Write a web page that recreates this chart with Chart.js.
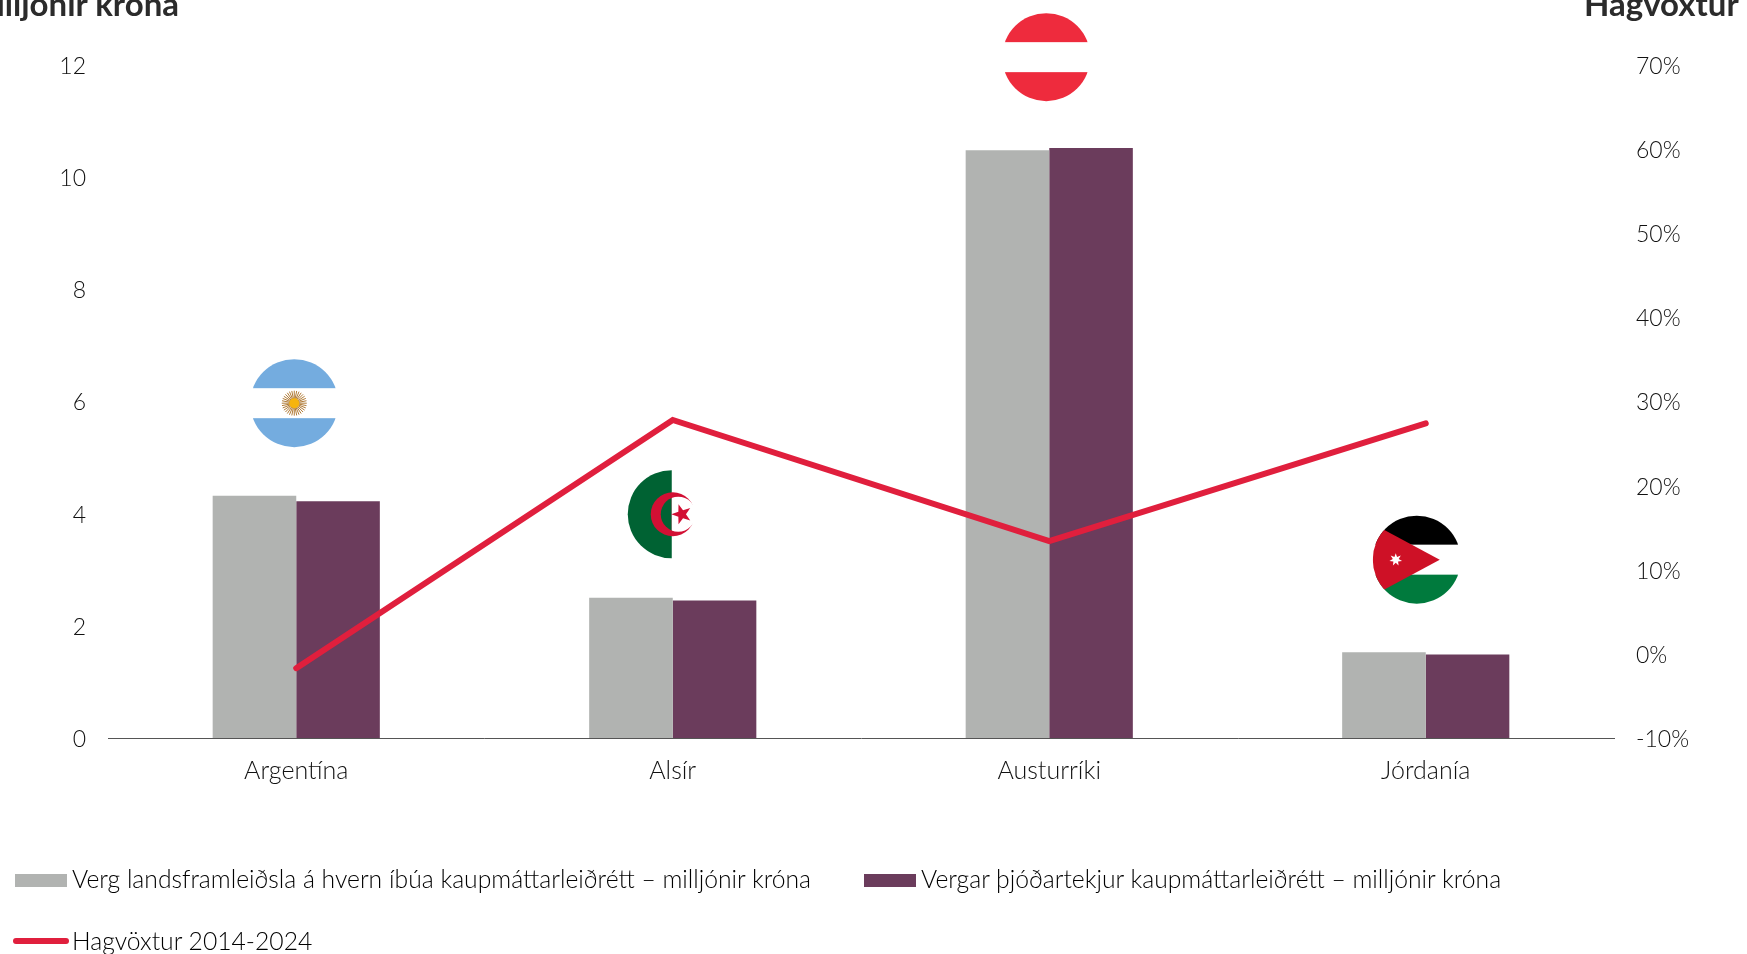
<!DOCTYPE html>
<html lang="is"><head><meta charset="utf-8">
<script src="https://cdn.jsdelivr.net/npm/chart.js@4"></script>
<style>
html,body{margin:0;padding:0;background:#fff;overflow:hidden;width:1747px;height:954px}
#wrap{position:relative;width:1747px;height:954px;overflow:hidden;font-family:Lato,sans-serif;color:#111}
canvas{position:absolute;left:0;top:0}
.t{position:absolute;white-space:nowrap;font-weight:700;font-size:33px;color:#2b2b2b;line-height:30px}
.l{position:absolute;white-space:nowrap;font-weight:300;font-size:24.7px;line-height:28px;color:#000}
.s{position:absolute}
</style></head><body>
<div id="wrap"><canvas id="c" width="1747" height="954"></canvas>
<div class="t" id="tl" style="right:1568px;top:-12px">Milljónir króna</div>
<div class="t" id="tr" style="left:1584px;top:-12px">Hagvöxtur</div>
</div>
<script>
const categories=["Argentína","Alsír","Austurríki","Jórdanía"];
const gdpPerCapita=[4.32,2.5,10.48,1.53];
const nationalIncome=[4.22,2.45,10.52,1.49];
const growth=[-1.7,27.8,13.4,27.4];
const seriesNames=["Verg landsframleiðsla á hvern íbúa kaupmáttarleiðrétt – milljónir króna","Vergar þjóðartekjur kaupmáttarleiðrétt – milljónir króna","Hagvöxtur 2014-2024"];
const colours=["#b1b3b1","#6b3c5c","#e01f3d"];
const flagHeights=[5.97,3.99,12.14,3.18];
const font={family:"Lato",size:23,weight:"300"};
const catFont={family:"Lato",size:25,weight:"300"};

function star(ctx,x,y,R,r,n,rot){ctx.beginPath();for(let i=0;i<2*n;i++){const a=rot+i*Math.PI/n,q=i%2?r:R;ctx.lineTo(x+q*Math.cos(a),y+q*Math.sin(a));}ctx.closePath();ctx.fill();}
function disc(ctx,x,y,fn){ctx.save();ctx.beginPath();ctx.ellipse(x,y,44,44,0,0,2*Math.PI);ctx.clip();fn();ctx.restore();}
const painters=[
 (ctx,x,y)=>{disc(ctx,x,y,()=>{ctx.fillStyle="#74acdf";ctx.fillRect(x-45,y-45,90,30);ctx.fillRect(x-45,y+15,90,30);});
  ctx.strokeStyle="#b07a35";ctx.lineWidth=1;for(let i=0;i<32;i++){const a=i*Math.PI/16;ctx.beginPath();ctx.moveTo(x+4*Math.cos(a),y+4*Math.sin(a));ctx.lineTo(x+12.5*Math.cos(a),y+12.5*Math.sin(a));ctx.stroke();}
  ctx.fillStyle="#f6b40e";ctx.beginPath();ctx.arc(x,y,5,0,7);ctx.fill();},
 (ctx,x,y)=>{disc(ctx,x,y,()=>{ctx.fillStyle="#006233";ctx.fillRect(x-45,y-45,45,90);});
  ctx.save();ctx.beginPath();ctx.rect(x-30,y-30,51,60);ctx.clip();ctx.fillStyle="#d21034";ctx.beginPath();ctx.arc(x+1,y,22,0,7);ctx.fill();ctx.restore();
  ctx.save();ctx.beginPath();ctx.arc(x+6.5,y,17.5,0,7);ctx.clip();ctx.fillStyle="#006233";ctx.fillRect(x-30,y-30,30,60);ctx.fillStyle="#fff";ctx.fillRect(x,y-30,30,60);ctx.restore();
  ctx.fillStyle="#d21034";star(ctx,x+10,y,10.5,4.2,5,Math.PI);},
 (ctx,x,y)=>{disc(ctx,x,y,()=>{ctx.fillStyle="#ee2b3d";ctx.fillRect(x-45,y-45,90,30);ctx.fillRect(x-45,y+15,90,30);});},
 (ctx,x,y)=>{disc(ctx,x,y,()=>{ctx.fillStyle="#000";ctx.fillRect(x-45,y-45,90,30);ctx.fillStyle="#007a3d";ctx.fillRect(x-45,y+15,90,30);
   ctx.fillStyle="#ce1126";ctx.beginPath();ctx.moveTo(x+23,y);ctx.lineTo(x-44,y-36);ctx.lineTo(x-44,y+36);ctx.closePath();ctx.fill();});
  ctx.fillStyle="#fff";star(ctx,x-21,y,6.5,3,7,-Math.PI/2);}
];
const flagOffsets=[-2,-1,-3,-9];
const flagsPlugin={id:"flags",afterDraw(chart){const {ctx,scales}=chart;
  categories.forEach((c,i)=>{painters[i](ctx,scales.x.getPixelForValue(i)+flagOffsets[i],scales.y.getPixelForValue(flagHeights[i]));});}};

new Chart(document.getElementById("c"),{
 data:{labels:categories,datasets:[
  {type:"line",label:seriesNames[2],data:growth,yAxisID:"y2",borderColor:colours[2],borderWidth:6,pointRadius:0,tension:0,order:0,borderCapStyle:"round",borderJoinStyle:"miter"},
  {type:"bar",label:seriesNames[0],data:gdpPerCapita,yAxisID:"y",backgroundColor:colours[0],barPercentage:1,categoryPercentage:.444,order:1},
  {type:"bar",label:seriesNames[1],data:nationalIncome,yAxisID:"y",backgroundColor:colours[1],barPercentage:1,categoryPercentage:.444,order:1}
 ]},
 plugins:[flagsPlugin],
 options:{responsive:false,animation:false,layout:{padding:{top:65,left:0,right:0,bottom:0}},
  plugins:{legend:{display:false},tooltip:{enabled:false}},
  scales:{
   x:{grid:{display:false,drawTicks:false},border:{display:true,color:"#555",width:1},ticks:{font:catFont,color:"#111",padding:18,maxRotation:0},afterFit(s){s.height=216;}},
   y:{position:"left",min:0,max:12,grid:{display:false},border:{display:false},ticks:{stepSize:2,font,color:"#111",padding:14,labelOffset:1.5},afterFit(s){s.width=108;}},
   y2:{position:"right",min:-10,max:70,grid:{display:false},border:{display:false},ticks:{stepSize:10,font,color:"#111",padding:14,labelOffset:1.5,callback:v=>v+"%"},afterFit(s){s.width=133;}}
  }}
});
// Legend built from the series names
const wrap=document.getElementById("wrap");
function add(cls,css,text){const d=document.createElement("div");d.className=cls;d.style.cssText=css;if(text)d.textContent=text;wrap.appendChild(d);}
add("s",`left:15px;top:874px;width:52px;height:13px;background:${colours[0]}`);
add("l","left:72px;top:865px",seriesNames[0]);
add("s",`left:864px;top:874px;width:52px;height:13px;background:${colours[1]}`);
add("l","left:921px;top:865px",seriesNames[1]);
add("s",`left:13px;top:938px;width:56px;height:6px;border-radius:3px;background:${colours[2]}`);
add("l","left:72px;top:927px",seriesNames[2]);
</script></body></html>
